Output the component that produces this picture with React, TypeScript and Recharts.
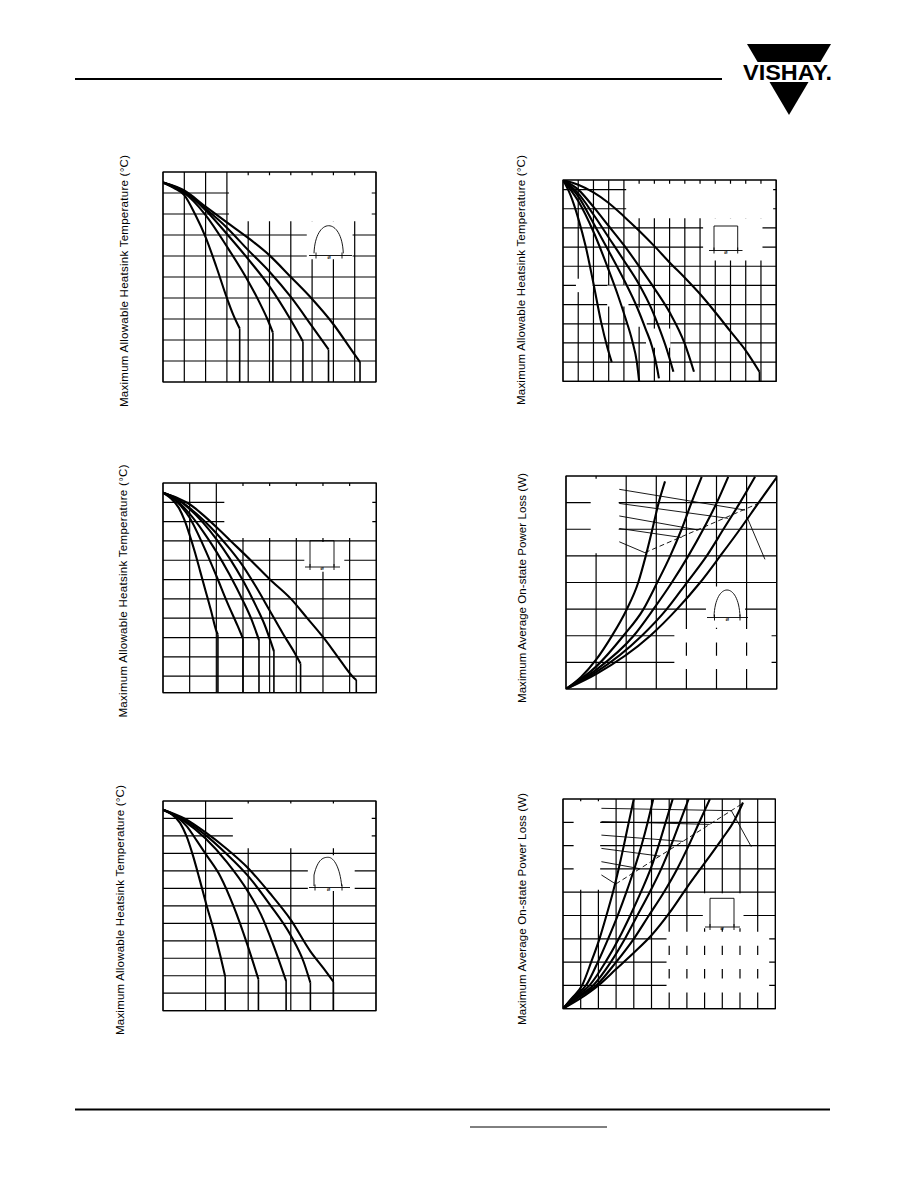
import React from 'react';
import { LineChart, Line, XAxis, YAxis, CartesianGrid, ReferenceArea, ReferenceLine } from 'recharts';

type Pt = [number, number];
type Box = { left: number; top: number; width: number; height: number };
type Rect = [number, number, number, number]; // x1, x2, y1, y2
type Seg = [number, number, number, number]; // x1, y1, x2, y2

// ---------- Fig. 1: heatsink temperature vs. average current, sinusoidal ----------
const fig1XTicks = [10, 20, 30, 40, 50, 60, 70, 80, 90];
const fig1YTicks = [40, 50, 60, 70, 80, 90, 100, 110, 120];
const fig1Sin30: Pt[] = [[0, 125], [5, 122.5], [10, 119], [15, 110], [20, 99], [25, 85], [30, 70], [33, 62], [36, 55.5]];
const fig1Sin60: Pt[] = [[0, 125], [5, 122.8], [10, 120], [20, 109.5], [30, 94.5], [40, 78], [45, 68.5], [49, 60], [51.6, 53.5]];
const fig1Sin90: Pt[] = [[0, 125], [5, 123], [10, 120.5], [20, 111.8], [30, 100.5], [40, 88.5], [50, 75.5], [60, 59.5], [65.7, 49.3]];
const fig1Sin120: Pt[] = [[0, 125], [10, 120.8], [20, 112.5], [30, 103.5], [40, 92.8], [50, 82.5], [60, 70.5], [70, 56.5], [77.7, 45.5]];
const fig1Sin180: Pt[] = [[0, 125], [10, 121.2], [20, 113.5], [30, 106], [40, 98.6], [50, 90.3], [60, 80], [70, 69.5], [80, 57.5], [90, 43], [92.5, 39.5]];

// ---------- Fig. 2: heatsink temperature vs. average current, rectangular ----------
const fig2XTicks = [10, 20, 30, 40, 50, 60, 70, 80, 90, 100, 110, 120, 130];
const fig2YTicks = [30, 40, 50, 60, 70, 80, 90, 100, 110, 120];
const fig2Rect30: Pt[] = [[0, 125], [5, 117], [10, 105], [15, 90], [20, 71], [25, 51], [29, 38], [32, 30]];
const fig2Rect60: Pt[] = [[0, 125], [10, 114], [20, 98], [30, 78], [36, 65], [41, 53], [45.5, 41], [48.5, 30], [50, 20]];
const fig2Rect90: Pt[] = [[0, 125], [10, 116.5], [20, 102.5], [30, 88], [40, 73], [48.7, 58.5], [54.2, 47.4], [58.6, 37.8], [62, 26], [63, 21.5]];
const fig2Rect120: Pt[] = [[0, 125], [10, 118], [20, 107], [30, 95], [40, 83], [50, 70.5], [58, 58], [64, 46], [68, 37], [72.5, 25]];
const fig2Rect180: Pt[] = [[0, 125], [10, 120], [20, 111], [30, 101], [40, 91], [50, 80], [60, 68.5], [70, 56], [80, 39.5], [86, 25]];
const fig2RectDC: Pt[] = [[0, 125], [10, 122.5], [20, 118.5], [30, 113], [40, 106], [50, 98.5], [60, 90.5], [70, 82], [80, 74], [90, 65.5], [100, 56], [110, 46], [120, 36], [129, 25]];

// ---------- Fig. 3: heatsink temperature vs. average current, rectangular ----------
const fig3XTicks = [10, 20, 30, 40, 50, 60, 70];
const fig3YTicks = [30, 40, 50, 60, 70, 80, 90, 100, 110, 120];
const fig3Rect30: Pt[] = [[0, 125], [3, 122], [6, 117], [8, 111], [10, 103], [12, 94], [14, 84], [16, 74], [18, 64], [20, 53.5], [20.6, 51.5]];
const fig3Rect60: Pt[] = [[0, 125], [5, 120.5], [10, 112], [15, 98], [20, 82], [24, 68.5], [28, 56], [30, 49.5]];
const fig3Rect90: Pt[] = [[0, 125], [5, 121], [10, 114], [15, 105], [20, 94.5], [25, 82.5], [30, 69], [33, 60], [36, 48.7]];
const fig3Rect120: Pt[] = [[0, 125], [5, 122], [10, 116.5], [15, 109.5], [20, 101], [25, 91], [30, 79.5], [35, 66], [38, 57], [41.6, 43]];
const fig3Rect180: Pt[] = [[0, 125], [5, 122], [10, 117], [15, 111], [20, 104], [25, 96], [30, 87], [35, 76], [40, 64], [45, 52], [49.4, 42], [51.6, 36.5]];
const fig3RectDC: Pt[] = [[0, 125], [5, 122.5], [10, 119], [15, 113.5], [20, 107.2], [25.4, 100], [32.9, 90], [40, 80.2], [48, 70], [54, 60.2], [60, 50.3], [65.4, 40.3], [71, 30], [72.5, 28]];

// ---------- Fig. 4: on-state power loss vs. average current, sinusoidal ----------
const fig4XTicks = [10, 20, 30, 40, 50, 60];
const fig4YTicks = [10, 20, 30, 40, 50, 60, 70];
const fig4Sin30: Pt[] = [[0, 0], [5, 4.5], [10, 11], [15, 19.5], [20, 29.5], [24, 40], [26.5, 50], [28.7, 60], [30.8, 70], [32.9, 78]];
const fig4Sin60: Pt[] = [[0, 0], [10, 8.4], [19, 19.9], [25.7, 29.9], [30.1, 39.5], [34.6, 49.9], [38.4, 60], [41.7, 70], [45.1, 79.7]];
const fig4Sin90: Pt[] = [[0, 0], [10, 7.2], [22.4, 19.9], [29, 29.9], [35.1, 39.9], [40.6, 49.9], [45.6, 60], [50.1, 70], [53.9, 79.7]];
const fig4Sin120: Pt[] = [[0, 0], [10, 6.3], [25.1, 19.9], [33.4, 29.9], [40.1, 39.9], [46.7, 49.9], [52.3, 60], [57.8, 70], [62.8, 79.7]];
const fig4Sin180: Pt[] = [[0, 0], [10, 5.6], [27.9, 19.9], [36.8, 29.9], [44.5, 39.9], [51.2, 49.9], [57.8, 60], [64, 70], [70, 79.5]];
const fig4Leaders: Seg[] = [[17.7, 75, 59.5, 67.2], [17.7, 69.7, 53.9, 64.1], [17.7, 65, 44, 59.7], [17.7, 60.3, 38.4, 56.9], [17.7, 55.3, 26.2, 51.2]];
const fig4RmsLimit: Seg = [26.2, 51.2, 63.9, 69.7];
const fig4Pointer: Seg = [60.2, 64.4, 66.1, 48.7];

// ---------- Fig. 5: heatsink temperature vs. average current, sinusoidal ----------
const fig5XTicks = [10, 20, 30, 40];
const fig5YTicks = [20, 30, 40, 50, 60, 70, 80, 90, 100, 110, 120];
const fig5Sin30: Pt[] = [[0, 125], [2, 122.5], [4, 117.5], [5.5, 110], [7, 99], [8.5, 86], [10.2, 70.5], [11.9, 56.2], [13.5, 41], [14.6, 29.5]];
const fig5Sin60: Pt[] = [[0, 125], [3, 121.5], [5.6, 115.5], [8, 107], [10.2, 99], [13.5, 86.7], [16.6, 69.5], [19.7, 48.5], [22.4, 28]];
const fig5Sin90: Pt[] = [[0, 125], [5, 118.5], [10, 108.5], [15, 95], [20, 78], [23, 65], [26, 47], [28.9, 27]];
const fig5Sin120: Pt[] = [[0, 125], [5, 119], [10, 110.5], [15, 99.5], [20, 87], [25, 71], [30, 53], [33, 38], [34.6, 26]];
const fig5Sin180: Pt[] = [[0, 125], [5, 120], [10, 112], [15, 102.5], [20, 91.5], [25, 77.5], [30, 62], [34.6, 44], [37.7, 34.2], [40, 26.6]];

// ---------- Fig. 6: on-state power loss vs. average current, rectangular ----------
const fig6XTicks = [10, 20, 30, 40, 50, 60, 70, 80, 90, 100, 110];
const fig6YTicks = [10, 20, 30, 40, 50, 60, 70, 80];
const fig6Rect30: Pt[] = [[0, 0], [5, 4.5], [10.9, 10.2], [16, 20.2], [20.7, 30.2], [24.6, 40.2], [28.4, 50.5], [31.6, 60.5], [34.5, 70.5], [37.3, 80.5], [40, 90]];
const fig6Rect60: Pt[] = [[0, 0], [6, 5], [13.2, 10.2], [19.8, 20.2], [25.6, 30.2], [31, 40.2], [36, 50.5], [40.5, 60.5], [44.5, 70.5], [48, 80.5], [51, 90]];
const fig6Rect90: Pt[] = [[0, 0], [7, 5], [15, 10], [24, 20], [31.5, 30], [38, 40], [44, 50], [49.5, 60], [54, 70], [58, 80], [62, 90]];
const fig6Rect120: Pt[] = [[0, 0], [8, 5], [17, 10], [27, 20], [35, 30], [42, 40], [49, 50], [55.5, 60], [61, 70], [66, 80], [71, 90]];
const fig6Rect180: Pt[] = [[0, 0], [9, 5], [18.8, 10], [30, 20], [40, 30], [48.5, 40], [57, 50], [64.5, 60], [71, 70], [77, 80], [83, 90]];
const fig6RectDC: Pt[] = [[0, 0], [10, 4.5], [20, 10], [30, 17], [40, 24], [50, 31.5], [60, 41], [70, 52], [80, 62.5], [90, 73], [97, 81], [101.7, 88.5]];
const fig6Leaders: Seg[] = [[21.7, 86, 95.1, 85], [21.7, 80.3, 82.9, 79.1], [21.7, 74.5, 67.8, 71.8], [21.7, 68.8, 54.6, 65.5], [21.7, 63.1, 43.3, 60.1], [21.7, 57.4, 29.8, 53.5]];
const fig6RmsLimit: Seg = [29.8, 53.5, 102.1, 88.4];
const fig6Pointer: Seg = [95.1, 85, 106.4, 69.5];

const TEMP_LABEL = 'Maximum Allowable Heatsink Temperature (°C)';
const LOSS_LABEL = 'Maximum Average On-state Power Loss (W)';

const FONT = "'Liberation Sans', Arial, Helvetica, sans-serif";
const PAD = 2;

interface PanelProps {
  box: Box;
  xDomain: [number, number];
  yDomain: [number, number];
  xTicks: number[];
  yTicks: number[];
  curves: Pt[][];
  drops?: Pt[];
  blanks?: Rect[];
  leaders?: Seg[];
  rmsLimit?: Seg;
  pointer?: Seg;
}

const rows = (pts: Pt[]) => pts.map(([x, y]) => ({ x, y }));

// Two stacked charts share the same scales: the lower one carries the grid
// and the blanked label areas, the upper one the frame, curves and leaders.
function Panel(p: PanelProps) {
  const [x0, x1] = p.xDomain;
  const [y0, y1] = p.yDomain;
  const w = p.box.width + 2 * PAD;
  const h = p.box.height + 2 * PAD;
  const margin = { top: PAD, right: PAD, bottom: PAD, left: PAD };
  const axes = [
    <XAxis key="x" type="number" dataKey="x" domain={p.xDomain} ticks={p.xTicks} interval={0} hide allowDataOverflow />,
    <YAxis key="y" type="number" domain={p.yDomain} ticks={p.yTicks} interval={0} hide allowDataOverflow />,
  ];
  return (
    <div style={{ position: 'absolute', left: p.box.left - PAD, top: p.box.top - PAD, width: w, height: h }}>
      <div style={{ position: 'absolute', left: 0, top: 0 }}>
        <LineChart width={w} height={h} margin={margin}>
          {axes}
          <CartesianGrid stroke="#000" strokeWidth={1.2} />
          {(p.blanks || []).map((b, i) => (
            <ReferenceArea key={`blank-${i}`} x1={b[0]} x2={b[1]} y1={b[2]} y2={b[3]} fill="#fff" fillOpacity={1} stroke="none" />
          ))}
        </LineChart>
      </div>
      <div style={{ position: 'absolute', left: 0, top: 0 }}>
        <LineChart width={w} height={h} margin={margin}>
          {axes}
          <ReferenceArea x1={x0} x2={x1} y1={y0} y2={y1} fill="none" stroke="#000" strokeWidth={1.2} />
          {(p.leaders || []).map((s, i) => (
            <ReferenceLine key={`lead-${i}`} segment={[{ x: s[0], y: s[1] }, { x: s[2], y: s[3] }]} stroke="#000" strokeWidth={0.9} />
          ))}
          {p.rmsLimit && (
            <ReferenceLine
              segment={[{ x: p.rmsLimit[0], y: p.rmsLimit[1] }, { x: p.rmsLimit[2], y: p.rmsLimit[3] }]}
              stroke="#000"
              strokeWidth={0.9}
              strokeDasharray="5 3"
            />
          )}
          {p.pointer && (
            <ReferenceLine
              segment={[{ x: p.pointer[0], y: p.pointer[1] }, { x: p.pointer[2], y: p.pointer[3] }]}
              stroke="#000"
              strokeWidth={0.9}
            />
          )}
          {p.curves.map((c, i) => (
            <Line key={`curve-${i}`} data={rows(c)} dataKey="y" type="monotone" stroke="#000" strokeWidth={2.1} dot={false} activeDot={false} isAnimationActive={false} />
          ))}
          {(p.drops || []).map((d, i) => (
            <Line key={`drop-${i}`} data={[{ x: d[0], y: d[1] }, { x: d[0], y: y0 }]} dataKey="y" type="linear" stroke="#000" strokeWidth={1.6} dot={false} activeDot={false} isAnimationActive={false} />
          ))}
        </LineChart>
      </div>
    </div>
  );
}

const lastPoint = (c: Pt[]) => c[c.length - 1];

const hump = (xa: number, xb: number, yb: number, top: number) => {
  const h = (yb - top) * 1.3;
  const w = xb - xa;
  return `M${xa},${yb} C${xa + w * 0.05},${yb - h} ${xb - w * 0.05},${yb - h} ${xb},${yb}`;
};

function PeriodBase({ xa, xb, y, ta, tb }: { xa: number; xb: number; y: number; ta: number; tb: number }) {
  return (
    <g stroke="#000" strokeWidth={0.9}>
      <line x1={xa} y1={y} x2={xb} y2={y} />
      <line x1={ta} y1={y - 3} x2={ta} y2={y + 3} />
      <line x1={tb} y1={y - 3} x2={tb} y2={y + 3} />
      <text x={(ta + tb) / 2} y={y + 3} fontSize={6} textAnchor="middle" fontFamily={FONT} stroke="none" fill="#000">ø</text>
    </g>
  );
}

function AxisTitle({ x, y, text, len }: { x: number; y: number; text: string; len: number }) {
  return (
    <text
      transform={`translate(${x},${y}) rotate(-90)`}
      textAnchor="middle"
      fontSize={11.5}
      fontFamily={FONT}
      fill="#000"
      textLength={len}
      lengthAdjust="spacing"
    >
      {text}
    </text>
  );
}

export default function App() {
  const fig1 = [fig1Sin30, fig1Sin60, fig1Sin90, fig1Sin120, fig1Sin180];
  const fig2 = [fig2Rect30, fig2Rect60, fig2Rect90, fig2Rect120, fig2Rect180, fig2RectDC];
  const fig3 = [fig3Rect30, fig3Rect60, fig3Rect90, fig3Rect120, fig3Rect180, fig3RectDC];
  const fig4 = [fig4Sin30, fig4Sin60, fig4Sin90, fig4Sin120, fig4Sin180];
  const fig5 = [fig5Sin30, fig5Sin60, fig5Sin90, fig5Sin120, fig5Sin180];
  const fig6 = [fig6Rect30, fig6Rect60, fig6Rect90, fig6Rect120, fig6Rect180, fig6RectDC];

  return (
    <div style={{ position: 'absolute', left: 0, top: 0, width: 918, height: 1188, background: '#fff', overflow: 'hidden' }}>
      <Panel
        box={{ left: 163, top: 171.5, width: 213, height: 210 }}
        xDomain={[0, 100]}
        yDomain={[30, 130]}
        xTicks={fig1XTicks}
        yTicks={fig1YTicks}
        curves={fig1}
        drops={fig1.map(lastPoint)}
        blanks={[[31, 98, 106.5, 128.5], [67.5, 89, 88.5, 106.5]]}
      />
      <Panel
        box={{ left: 562.5, top: 179.5, width: 213.2, height: 201.3 }}
        xDomain={[0, 140]}
        yDomain={[20, 125]}
        xTicks={fig2XTicks}
        yTicks={fig2YTicks}
        curves={fig2}
        drops={[lastPoint(fig2RectDC)]}
        blanks={[[41.5, 138, 105, 123], [92, 131, 83, 105], [8.5, 19.5, 66.5, 73.5], [29, 43, 59, 70], [42, 55, 48.5, 58.5], [54.5, 70.5, 37.5, 47.5]]}
      />
      <Panel
        box={{ left: 162.5, top: 482.7, width: 213.3, height: 209.6 }}
        xDomain={[0, 80]}
        yDomain={[21.5, 130]}
        xTicks={fig3XTicks}
        yTicks={fig3YTicks}
        curves={fig3}
        drops={fig3.map(lastPoint)}
        blanks={[[23, 78.5, 101.5, 128.5], [53, 68, 84, 99.4]]}
      />
      <Panel
        box={{ left: 566, top: 476, width: 210.7, height: 213 }}
        xDomain={[0, 70]}
        yDomain={[0, 80]}
        xTicks={fig4XTicks}
        yTicks={fig4YTicks}
        curves={fig4}
        blanks={[[8.2, 17.5, 51, 79], [46.5, 59.5, 23, 38.5], [36, 68.3, 17.5, 22.5], [36, 68.3, 7.5, 12.5]]}
        leaders={fig4Leaders}
        rmsLimit={fig4RmsLimit}
        pointer={fig4Pointer}
      />
      <Panel
        box={{ left: 163, top: 801, width: 213, height: 209.7 }}
        xDomain={[0, 50]}
        yDomain={[10, 130]}
        xTicks={fig5XTicks}
        yTicks={fig5YTicks}
        curves={fig5}
        drops={fig5.map(lastPoint)}
        blanks={[[16.4, 49, 103, 128.5], [34, 45, 78.5, 99]]}
      />
      <Panel
        box={{ left: 563.3, top: 799, width: 212.4, height: 209.7 }}
        xDomain={[0, 120]}
        yDomain={[0, 90]}
        xTicks={fig6XTicks}
        yTicks={fig6YTicks}
        curves={fig6}
        blanks={[[6, 21, 51, 89], [79, 102, 34.5, 49.5], [58.5, 116.5, 27, 33], [58.5, 116.5, 17, 23], [58.5, 116.5, 7, 13]]}
        leaders={fig6Leaders}
        rmsLimit={fig6RmsLimit}
        pointer={fig6Pointer}
      />

      <svg width={918} height={1188} style={{ position: 'absolute', left: 0, top: 0, pointerEvents: 'none' }}>
        {/* page header rule and logo */}
        <line x1={75} y1={79} x2={722} y2={79} stroke="#000" strokeWidth={2} />
        <polygon points="747,44 831,44 789,115" fill="#000" />
        <rect x={738} y={62} width={100} height={20} fill="#fff" />
        <text x={743} y={80} fontSize={22} fontWeight="bold" fontFamily="'Liberation Sans Narrow', 'Arial Narrow', 'Liberation Sans', Arial, sans-serif" textLength={89} lengthAdjust="spacingAndGlyphs" fill="#000">VISHAY.</text>

        {/* page footer rules */}
        <line x1={75} y1={1109.5} x2={830} y2={1109.5} stroke="#000" strokeWidth={2} />
        <line x1={470} y1={1127} x2={607} y2={1127} stroke="#000" strokeWidth={1} />

        {/* axis titles */}
        <AxisTitle x={128} y={281} text={TEMP_LABEL} len={252} />
        <AxisTitle x={525} y={280} text={TEMP_LABEL} len={250} />
        <AxisTitle x={127} y={591} text={TEMP_LABEL} len={253} />
        <AxisTitle x={526} y={588} text={LOSS_LABEL} len={230} />
        <AxisTitle x={124} y={910} text={TEMP_LABEL} len={250} />
        <AxisTitle x={526} y={909} text={LOSS_LABEL} len={232} />

        {/* conduction waveform insets */}
        <g fill="none" stroke="#000" strokeWidth={0.9}>
          <path d={hump(314, 343.3, 253.3, 225)} />
          <path d="M314,886 L314,875 C318,858 324,857.3 328.3,857.3 C334,857.3 340,868 341.7,886" />
          <path d={hump(714, 740, 616.7, 589.3)} />
          <path d="M714,250 L714,226 L737.7,226 L737.7,250" />
          <path d="M310,566.7 L310,540.7 L334,540.7 L334,566.7" />
          <path d="M710,926.7 L710,898.3 L734,898.3 L734,926.7" />
        </g>
        <PeriodBase xa={309} xb={352} y={255.5} ta={316} tb={342} />
        <PeriodBase xa={309} xb={350} y={887.5} ta={315} tb={342} />
        <PeriodBase xa={707} xb={748} y={617.5} ta={714.5} tb={740} />
        <PeriodBase xa={709} xb={742.5} y={250.5} ta={714} tb={737.7} />
        <PeriodBase xa={305} xb={340} y={567} ta={310} tb={334} />
        <PeriodBase xa={705} xb={740} y={927} ta={710} tb={734} />
      </svg>
    </div>
  );
}
